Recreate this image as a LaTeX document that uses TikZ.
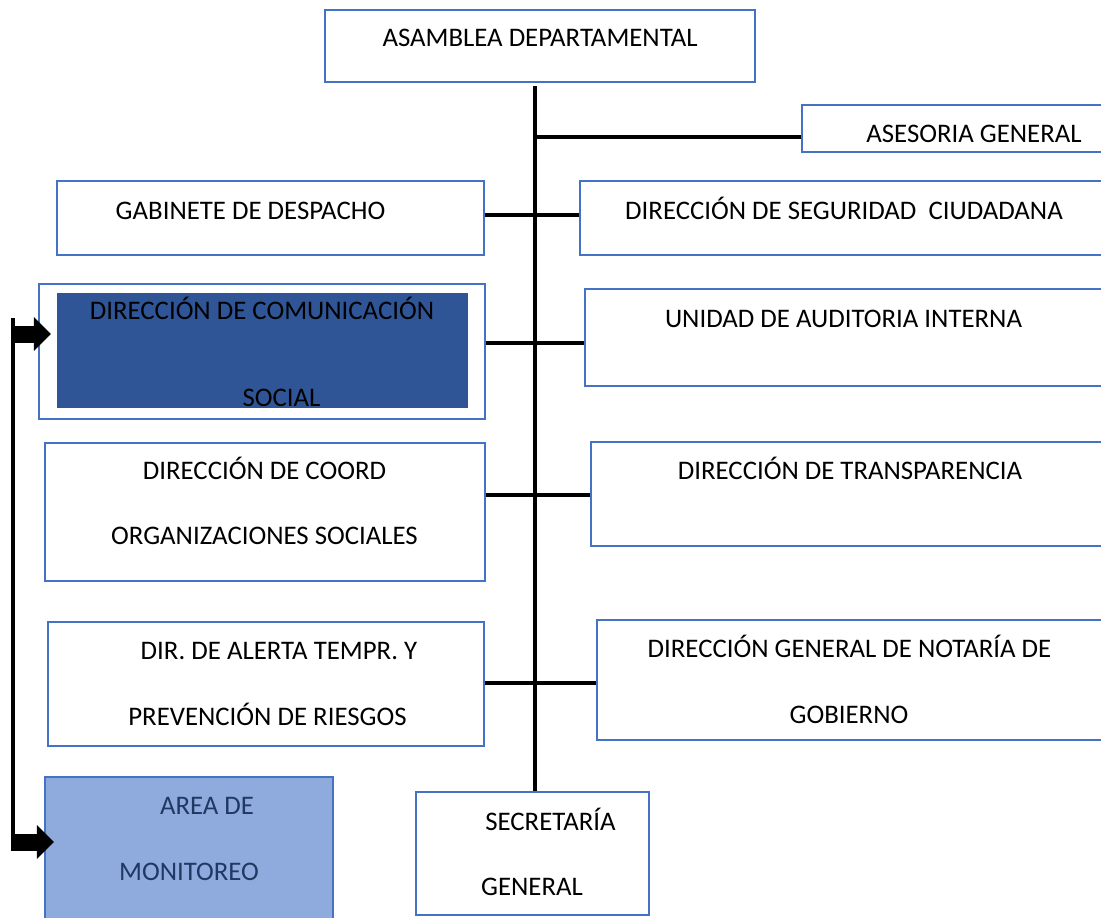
\documentclass[tikz,border=0pt]{standalone}
\usepackage{fontspec}
\setmainfont{Carlito}
\usetikzlibrary{arrows.meta,calc}
\definecolor{bbord}{HTML}{4472C4}
\definecolor{dblue}{HTML}{2F5597}
\definecolor{lblue}{HTML}{8FAADC}
\definecolor{tblue}{HTML}{203864}
\begin{document}
\begin{tikzpicture}[x=0.5pt,y=-0.5pt,
  box/.style={draw=bbord,line width=1.1pt,fill=white,rectangle,inner sep=0pt},
  lbl/.style={anchor=base,inner sep=0pt,font=\fontsize{13.4}{16}\selectfont},
  conn/.style={line width=2pt,black},
  blockarrow/.style={line width=8.5pt,-{Triangle[width=16.5pt,length=8.5pt]}}
]
\useasboundingbox (0,0) rectangle (1101,917);
\clip (0,0) rectangle (1101,917);
% boxes
\node[box,minimum width=215pt,minimum height=36pt] (asam) at (540,46) {};
\node[box,minimum width=151.5pt,minimum height=23.5pt] (ases) at (953.5,128.5) {};
\node[box,minimum width=213.5pt,minimum height=37pt] (gab) at (270.5,218) {};
\node[box,minimum width=262.5pt,minimum height=37pt] (seg) at (842.5,218) {};
\node[box,minimum width=223pt,minimum height=67.5pt] (com) at (262,351.5) {};
\node[rectangle,fill=dblue,inner sep=0pt,minimum width=205.5pt,minimum height=57.5pt] (comin) at (262.5,350.5) {};
\node[box,minimum width=260pt,minimum height=48.5pt] (aud) at (845,337.5) {};
\node[box,minimum width=220pt,minimum height=69pt] (coord) at (265,512) {};
\node[box,minimum width=257pt,minimum height=52pt] (trans) at (848,494) {};
\node[box,minimum width=218pt,minimum height=62pt] (alerta) at (266,684) {};
\node[box,minimum width=254pt,minimum height=60pt] (nota) at (851,680) {};
\node[box,minimum width=116.5pt,minimum height=61.5pt] (sec) at (532.5,853.5) {};
\node[box,fill=lblue,minimum width=144pt,minimum height=71.5pt] (mon) at (189,848.5) {};
% labels
\node[lbl] (tasam) at (540,46) {ASAMBLEA DEPARTAMENTAL};
\node[lbl] (tases) at (974,142) {ASESORIA GENERAL};
\node[lbl] (tgab) at (250.5,219) {GABINETE DE DESPACHO};
\node[lbl] (tseg) at (844,219) {DIRECCIÓN DE SEGURIDAD\ \ CIUDADANA};
\node[lbl] (tcom1) at (262,319) {DIRECCIÓN DE COMUNICACIÓN};
\node[lbl] (tcom2) at (281.5,406) {SOCIAL};
\node[lbl] (taud) at (843.5,327) {UNIDAD DE AUDITORIA INTERNA};
\node[lbl] (tcoord1) at (264.5,479) {DIRECCIÓN DE COORD};
\node[lbl] (tcoord2) at (264.5,544) {ORGANIZACIONES SOCIALES};
\node[lbl] (ttrans) at (850,479) {DIRECCIÓN DE TRANSPARENCIA};
\node[lbl] (talerta1) at (279,659) {DIR. DE ALERTA TEMPR. Y};
\node[lbl] (talerta2) at (267.5,725) {PREVENCIÓN DE RIESGOS};
\node[lbl] (tnota1) at (849.5,657) {DIRECCIÓN GENERAL DE NOTARÍA DE};
\node[lbl] (tnota2) at (849,723) {GOBIERNO};
\node[lbl] (tsec1) at (550.5,830) {SECRETARÍA};
\node[lbl] (tsec2) at (532,895) {GENERAL};
\node[lbl,text=tblue] (tmon1) at (207,814) {AREA DE};
\node[lbl,text=tblue] (tmon2) at (189,880) {MONITOREO};
% connectors
\coordinate (trunktop) at (535,86);
\draw[conn] (trunktop) -- (trunktop |- sec.north);
\draw[conn] (535,137) -- (ases.west |- 0,137);
\draw[conn] (gab.east |- 0,215) -- (seg.west |- 0,215);
\draw[conn] (com.east |- 0,343) -- (aud.west |- 0,343);
\draw[conn] (coord.east |- 0,495) -- (trans.west |- 0,495);
\draw[conn] (alerta.east |- 0,683) -- (nota.west |- 0,683);
% left bracket
\coordinate (brtop) at (13,318);
\coordinate (brbot) at (13,835);
\draw[conn] (brtop) -- (brbot);
\draw[blockarrow] (11,334) -- ([xshift=6.5pt]com.west |- 0,334);
\draw[blockarrow] (11,842) -- ([xshift=5pt]mon.west |- 0,842);
\end{tikzpicture}
\end{document}
